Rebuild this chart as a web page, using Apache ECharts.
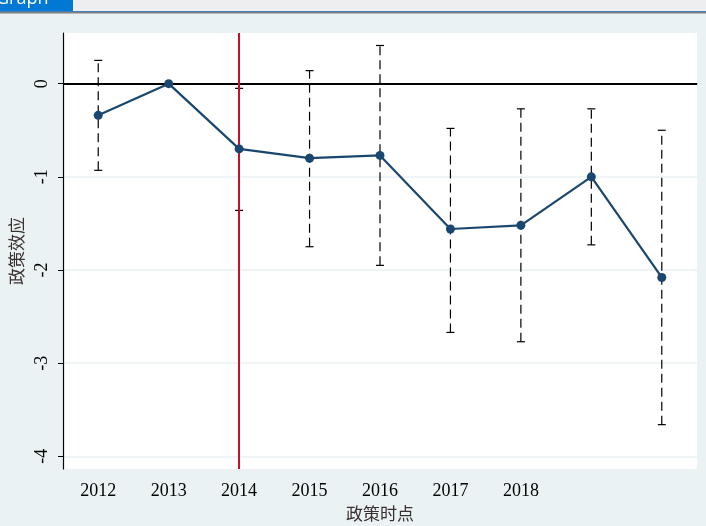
<!DOCTYPE html>
<html>
<head>
<meta charset="utf-8">
<script src="https://cdn.jsdelivr.net/npm/echarts@6/dist/echarts.min.js"></script>
<style>
html,body{margin:0;padding:0;background:#EAF2F3;}
#chart{width:706px;height:526px;}
</style>
</head>
<body>
<div id="chart"></div>
<script>
// Data
var years = ['2012','2013','2014','2015','2016','2017','2018','2019','2020'];
var tickLabels = ['2012','2013','2014','2015','2016','2017','2018'];
var effect = [-0.34, 0, -0.70, -0.80, -0.77, -1.56, -1.52, -1.00, -2.08];
var ciHigh = [0.25, null, -0.05, 0.14, 0.41, -0.48, -0.27, -0.27, -0.50];
var ciLow  = [-0.93, null, -1.36, -1.75, -1.95, -2.67, -2.77, -1.73, -3.66];
var yTicks = [0, -1, -2, -3, -4];
var policyYear = '2014';

var ciData = [];
for (var i = 0; i < years.length; i++) {
  if (ciLow[i] !== null && ciHigh[i] !== null) ciData.push([i, ciLow[i], ciHigh[i]]);
}

var chart = echarts.init(document.getElementById('chart'), null, {renderer:'canvas'});
var serif = '"Liberation Serif", "Times New Roman", serif';
var cjk = '"Noto Sans CJK SC", sans-serif';
var showTick = function (i) { return tickLabels.indexOf(years[i]) >= 0; };

chart.setOption({
  backgroundColor: '#EAF2F3',
  animation: false,
  graphic: [
    {type:'rect', shape:{x:0,y:0,width:706,height:11}, style:{fill:'#EEEEF0'}, z:100},
    {type:'rect', shape:{x:0,y:0,width:73,height:11}, style:{fill:'#0078D4'}, z:101},
    {type:'rect', shape:{x:0,y:11,width:706,height:1}, style:{fill:'#4A7FB5'}, z:101},
    {type:'rect', shape:{x:0,y:12,width:706,height:1.5}, style:{fill:'#808080'}, z:101},
    {type:'text', x:-4, y:-10, style:{text:'Graph', fill:'#ffffff', font:'18px "Open Sans", sans-serif'}, z:102}
  ],
  grid: {left:63, right:9, top:33, bottom:57, show:true, backgroundColor:'#ffffff', borderWidth:0,
         containLabel:false, outerBoundsMode:'none'},
  xAxis: {
    type:'category', data: years,
    name:'政策时点', nameLocation:'middle', nameGap:23,
    nameTextStyle:{fontFamily:cjk, fontSize:17, color:'#3a3030'},
    axisLine:{lineStyle:{color:'#000', width:1.2}},
    axisTick:{alignWithLabel:true, interval:showTick, length:5, lineStyle:{color:'#000'}},
    axisLabel:{interval:showTick, formatter:function(v){return tickLabels.indexOf(v)>=0?v:'';},
      fontFamily:serif, fontSize:18, color:'#000', margin:13},
    splitLine:{show:false}
  },
  yAxis: {
    type:'value', min:-4.136, max:0.544,
    name:'政策效应', nameLocation:'middle', nameGap:33, nameRotate:90,
    nameTextStyle:{fontFamily:cjk, fontSize:17, color:'#3a3030'},
    axisLine:{show:true, lineStyle:{color:'#000', width:1.2}},
    axisTick:{show:true, customValues:yTicks, length:5, lineStyle:{color:'#000'}},
    axisLabel:{customValues:yTicks, rotate:90, fontFamily:serif, fontSize:18, color:'#000', margin:12},
    splitLine:{show:true, lineStyle:{color:'#EAF2F3', width:1.5}}
  },
  series: [
    {
      type:'custom', name:'CI', data: ciData, encode:{x:0, y:[1,2]}, z:2,
      renderItem: function (params, api) {
        var lo = api.coord([api.value(0), api.value(1)]);
        var hi = api.coord([api.value(0), api.value(2)]);
        var cw = 4;
        var st = {stroke:'#000', lineWidth:1.2};
        return {type:'group', children:[
          {type:'line', shape:{x1:lo[0], y1:lo[1], x2:hi[0], y2:hi[1]}, style:{stroke:'#000', lineWidth:1.2, lineDash:[9,5]}},
          {type:'line', shape:{x1:lo[0]-cw, y1:lo[1], x2:lo[0]+cw, y2:lo[1]}, style:st},
          {type:'line', shape:{x1:hi[0]-cw, y1:hi[1], x2:hi[0]+cw, y2:hi[1]}, style:st}
        ]};
      }
    },
    {
      type:'line', name:'effect', data: effect, z:5,
      symbol:'circle', symbolSize:9,
      itemStyle:{color:'#1A476F'}, lineStyle:{color:'#1A476F', width:2.2},
      markLine:{
        silent:true, symbol:'none', label:{show:false},
        data:[
          {yAxis:0, lineStyle:{color:'#000', width:2, type:'solid'}},
          {xAxis:policyYear, lineStyle:{color:'#C8102E', width:2, type:'solid'}}
        ]
      }
    }
  ]
});
</script>
</body>
</html>
